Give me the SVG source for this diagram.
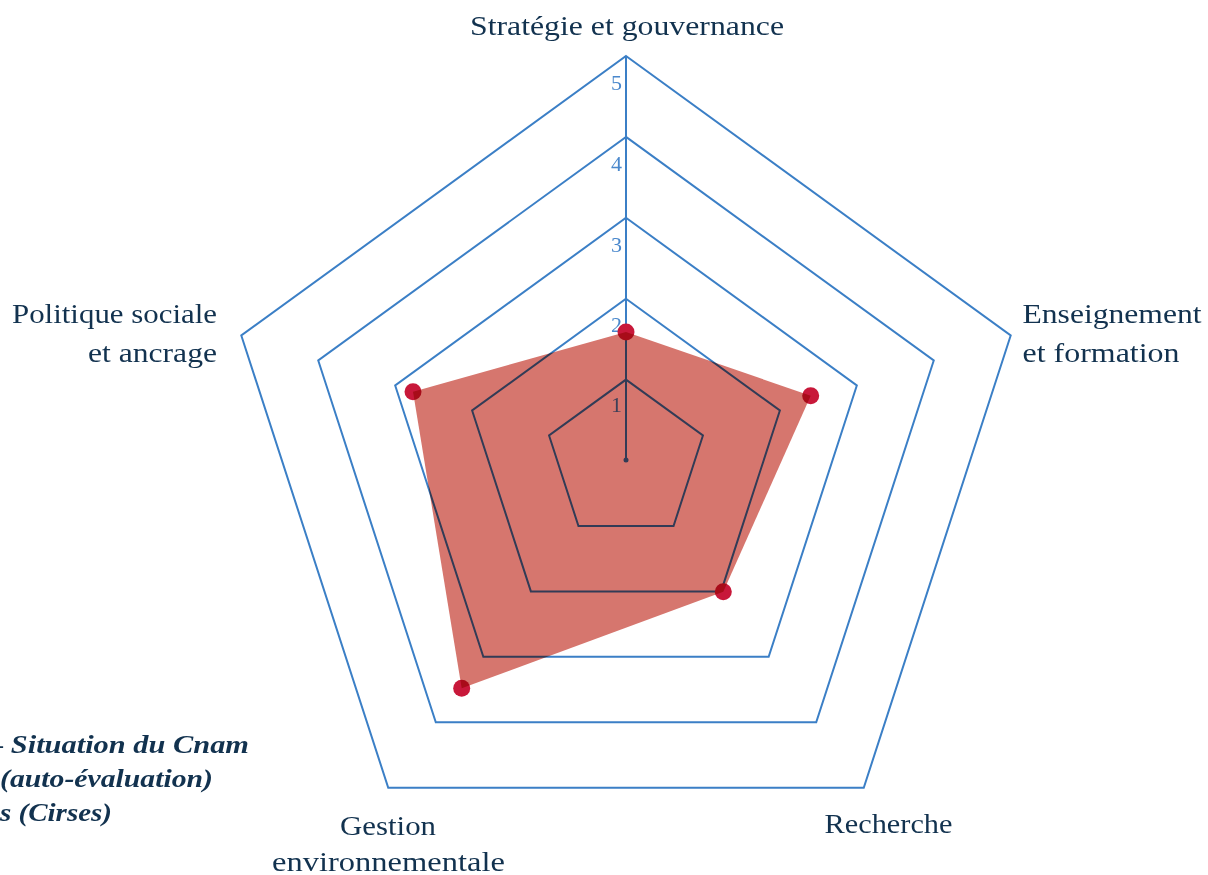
<svg xmlns="http://www.w3.org/2000/svg" width="1208" height="875" viewBox="0 0 1208 875">
<style>
.ring{fill:none;stroke:#3b7fc6;stroke-width:2;stroke-linejoin:miter}
.tick{font-family:"Liberation Serif",serif;font-size:22px;fill:#4a88cc;text-anchor:end}
.lbl{font-family:"Liberation Serif",serif;font-size:28px;fill:#12324f}
.leg{font-family:"Liberation Serif",serif;font-size:26px;font-style:italic;font-weight:bold;fill:#12324f}
.dot{fill:#c8183a}
.area{fill:#d6766e;mix-blend-mode:multiply}
</style>
<rect width="1208" height="875" fill="#ffffff"/>
<g id="grid">
<polygon class="ring" points="626,379.6 702.94,435.5 673.55,525.95 578.45,525.95 549.06,435.5"/>
<polygon class="ring" points="626,298.7 779.88,410.5 721.11,591.4 530.89,591.4 472.12,410.5"/>
<polygon class="ring" points="626,217.8 856.82,385.5 768.66,656.85 483.34,656.85 395.18,385.5"/>
<polygon class="ring" points="626,136.9 933.76,360.5 816.21,722.3 435.79,722.3 318.24,360.5"/>
<polygon class="ring" points="626,56 1010.7,335.5 863.76,787.75 388.24,787.75 241.3,335.5"/>
<line class="ring" x1="626" y1="460.5" x2="626" y2="56"/>
<circle cx="626" cy="460" r="2.5" fill="#3b7fc6"/>
<text class="tick" x="622" y="90">5</text>
<text class="tick" x="622" y="171">4</text>
<text class="tick" x="622" y="251.5">3</text>
<text class="tick" x="622" y="331.5">2</text>
<text class="tick" x="622" y="412">1</text>
</g>
<g id="labels">
<text class="lbl" x="627" y="35" text-anchor="middle" textLength="314" lengthAdjust="spacingAndGlyphs">Stratégie et gouvernance</text>
<text class="lbl" x="1022.5" y="323" textLength="179" lengthAdjust="spacingAndGlyphs">Enseignement</text>
<text class="lbl" x="1022.5" y="362" textLength="157" lengthAdjust="spacingAndGlyphs">et formation</text>
<text class="lbl" x="888.5" y="833" text-anchor="middle" textLength="128" lengthAdjust="spacingAndGlyphs">Recherche</text>
<text class="lbl" x="388" y="835" text-anchor="middle" textLength="96" lengthAdjust="spacingAndGlyphs">Gestion</text>
<text class="lbl" x="388.5" y="871" text-anchor="middle" textLength="233" lengthAdjust="spacingAndGlyphs">environnementale</text>
<text class="lbl" x="217" y="323" text-anchor="end" textLength="205" lengthAdjust="spacingAndGlyphs">Politique sociale</text>
<text class="lbl" x="217" y="362" text-anchor="end" textLength="129" lengthAdjust="spacingAndGlyphs">et ancrage</text>
</g>
<g id="legend">
<text class="leg" x="-12" y="753" textLength="261" lengthAdjust="spacingAndGlyphs">– Situation du Cnam</text>
<text class="leg" x="0" y="787" textLength="213" lengthAdjust="spacingAndGlyphs">(auto-évaluation)</text>
<text class="leg" x="0" y="821" textLength="112" lengthAdjust="spacingAndGlyphs">s (Cirses)</text>
</g>
<g id="series">
<circle class="dot" cx="626" cy="332" r="8.5"/>
<circle class="dot" cx="810.7" cy="395.7" r="8.5"/>
<circle class="dot" cx="723.3" cy="591.7" r="8.5"/>
<circle class="dot" cx="461.7" cy="688.3" r="8.5"/>
<circle class="dot" cx="413" cy="391.7" r="8.5"/>
<polygon class="area" points="626,332 810.7,395.7 723.3,591.7 461.7,688.3 413,391.7"/>
</g>
</svg>
